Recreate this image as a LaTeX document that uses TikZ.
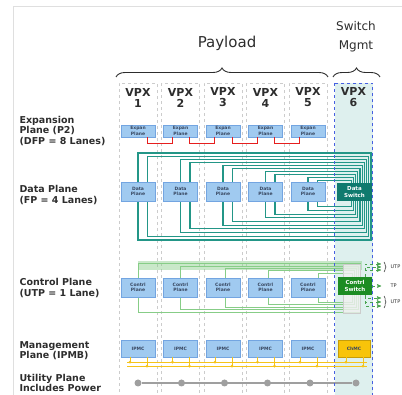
\documentclass[tikz,border=0pt]{standalone}
\usepackage{fontspec}
\setmainfont{DejaVu Sans}
\usetikzlibrary{positioning,calc,arrows,decorations.pathreplacing}
\pgfdeclarelayer{back}
\pgfdeclarelayer{lines}
\pgfsetlayers{back,lines,main}

\definecolor{planeblue}{RGB}{160,202,240}
\definecolor{planeedge}{RGB}{115,165,225}
\definecolor{planetext}{RGB}{55,70,95}
\definecolor{dataline}{RGB}{35,150,135}
\definecolor{dataswitch}{RGB}{15,122,110}
\definecolor{ctrlswitch}{RGB}{28,140,35}
\definecolor{ctrlline}{RGB}{135,205,135}
\definecolor{mgmtline}{RGB}{245,195,25}
\definecolor{chmcfill}{RGB}{248,196,10}
\definecolor{slotfill}{RGB}{222,240,238}
\definecolor{slotblue}{RGB}{70,95,225}
\definecolor{labeltext}{RGB}{45,45,45}
\definecolor{expred}{RGB}{230,30,30}

\begin{document}
\begin{tikzpicture}[x=1pt,y=-1pt,>=stealth',
    slot/.style={draw=gray!40,dashed,line width=0.5pt,minimum width=38pt,
      minimum height=320pt,anchor=north,inner sep=0pt},
    vpx/.style={align=center,font=\fontsize{11}{11}\selectfont\bfseries,text=labeltext},
    plane/.style={draw=planeedge,fill=planeblue,minimum width=34pt,inner sep=0pt,
      align=center,text=planetext,font=\fontsize{4.5}{5.5}\selectfont\bfseries},
    swbox/.style={plane,draw=none,text=white,font=\fontsize{5.5}{6.5}\selectfont\bfseries},
    side/.style={anchor=west,align=left,text=labeltext,
      font=\fontsize{9.5}{10.5}\selectfont\bfseries},
    brace/.style={decorate,decoration={brace,amplitude=9pt},line width=0.9pt,labeltext},
    expline/.style={expred,line width=1.3pt},
    dloop/.style={dataline,line width=1.1pt},
    cloop/.style={ctrlline,line width=0.8pt},
    cuarrow/.style={->,ctrlswitch!80,dashed,line width=0.6pt},
    utp/.style={anchor=west,text=labeltext,font=\fontsize{5}{5}\selectfont},
    mline/.style={mgmtline,line width=0.8pt},
    mdot/.style={circle,fill=mgmtline,inner sep=0pt,minimum size=3pt},
    pdot/.style={circle,fill=gray!75,inner sep=0pt,minimum size=7pt}]
  \useasboundingbox (0,0) rectangle (402,395);
  \draw[gray!25] (13,395) -- (13,6) -- (402,6);
  % headings
  \node[font=\fontsize{15}{15}\selectfont,text=labeltext] (pay) at (227,43) {Payload};
  \node[align=center,font=\fontsize{12}{19}\selectfont,text=labeltext] (sm) at (356,37) {Switch\\Mgmt};
  \draw[brace] (116,77) -- (328,77);
  \draw[brace] (333,77) -- (380,77);
  % slots
  \begin{pgfonlayer}{back}
  \foreach \i/\cx in {1/138,2/180.5,3/223,4/265.5,5/308}
    \node[slot] (s\i) at (\cx,83) {};
  \node[slot,fill=slotfill,draw=none] (s6) at (353.5,83) {};
  \end{pgfonlayer}
  % nodes
  \foreach \i/\cx in {1/138,2/180.5,3/223,4/265.5,5/308}{
    \node[vpx] (v\i) at (\cx,97.5) {VPX\\\i};
    \node[plane,minimum height=12pt] (e\i) at (\cx,131) {Expan\\Plane};
    \node[plane,minimum height=19pt] (d\i) at (\cx,191.5) {Data\\Plane};
    \node[plane,minimum height=19pt] (c\i) at (\cx,287.5) {Contrl\\Plane};
    \node[plane,minimum height=17pt] (m\i) at (\cx,348.5) {IPMC};
  }
  \node[vpx] (v6) at (353.5,97.5) {VPX\\6};
  \node[swbox,fill=dataswitch,minimum width=35pt,minimum height=18pt] (dsw) at (354.5,192) {Data\\Switch};
  \node[draw=gray!40,fill=gray!12,fill opacity=.8,minimum width=17pt,minimum height=49pt,inner sep=0pt] (cbus) at (351.5,288.5) {};
  \node[swbox,fill=ctrlswitch,minimum width=34pt,minimum height=18pt] (csw) at (355,286) {Contrl\\Switch};
  \node[plane,fill=chmcfill,draw=chmcfill!80!black,minimum width=32pt,minimum height=17pt] (m6) at (354,348.5) {ChMC};
  % side labels
  \node[side] (lx) at (16,131) {Expansion\\Plane (P2)\\(DFP =  8 Lanes)};
  \node[side] (ld) at (16,195) {Data Plane\\(FP = 4 Lanes)};
  \node[side] (lc) at (16,288) {Control Plane\\(UTP = 1 Lane)};
  \node[side] (lm) at (16,350.5) {Management\\Plane (IPMB)};
  \node[side] (lu) at (16,383) {Utility Plane\\Includes Power};
  % edges
  \foreach \i/\j in {1/2,2/3,3/4,4/5}
    \draw[expline] ($(e\i.south east)+(-8,0)$) -- ++(0,6) -| ($(e\j.south west)+(9,0)$);
  \begin{pgfonlayer}{lines}
  \foreach \k in {0,...,9}{
    \pgfmathtruncatemacro{\b}{\k/2+1}
    \pgfmathsetmacro{\dx}{mod(\k,2)*9.5}
    \draw[dloop] ($(d\b.north)+(\dx,0)$) |- (371-2.2*\k,153+3.1*\k)
      -- (371-2.2*\k,240-3.7*\k) -| ($(d\b.south)+(\dx,0)$);
  }
  \fill[ctrlline,opacity=.45] (138,261) rectangle (362,270);
  \foreach \i/\dx/\yt/\yb/\xr in {1/0/263/312/360,2/0/266/309.5/358,3/2/268.5/307/356,4/2.5/270.5/304.5/354,5/10/273/302/352}
    \draw[cloop] ($(c\i.north)+(\dx,0)$) |- (\xr,\yt) -- (\xr,\yb) -| ($(c\i.south)+(\dx,0)$);
  \end{pgfonlayer}
  \draw[slotblue,dashed,line width=0.8pt] (s6.north west) rectangle (s6.south east);
  % control switch ports
  \foreach \y in {264,267,270}
    \draw[cuarrow] ($(csw.north east)+(-7,0)$) |- (381,\y);
  \draw[cuarrow] (csw.east) -- ++(9,0);
  \foreach \y in {298,302,306}
    \draw[cuarrow] ($(csw.south east)+(-7,0)$) |- (381,\y);
  \draw[decorate,decoration={brace,amplitude=2pt},labeltext,line width=0.5pt] (384,262) -- (384,272);
  \draw[decorate,decoration={brace,amplitude=2pt},labeltext,line width=0.5pt] (384,296) -- (384,308);
  \node[utp] (u1) at (387,267) {UTP};
  \node[utp] (u2) at (387,286) {TP};
  \node[utp] (u3) at (387,302) {UTP};
  % management bus
  \coordinate (ya) at (127,362); \coordinate (yb) at (367,362);
  \coordinate (yc) at (127,366); \coordinate (yd) at (367,366);
  \draw[mline] (ya) -- (yb);
  \draw[mline] (yc) -- (yd);
  \foreach \i in {1,...,6}{
    \draw[mline] ($(m\i.south)+(-8,0)$) -- ++(0,5) node[mdot]{};
    \draw[mline] ($(m\i.south)+(9,0)$) -- ++(0,9) node[mdot]{};
  }
  % utility plane
  \foreach \i/\cx in {1/138,2/181.5,3/224.5,4/267.5,5/310,6/356}
    \node[pdot] (p\i) at (\cx,383) {};
  \begin{pgfonlayer}{lines}
  \draw[gray!75,line width=2.5pt] (p1) -- (p6);
  \end{pgfonlayer}
\end{tikzpicture}
\end{document}
